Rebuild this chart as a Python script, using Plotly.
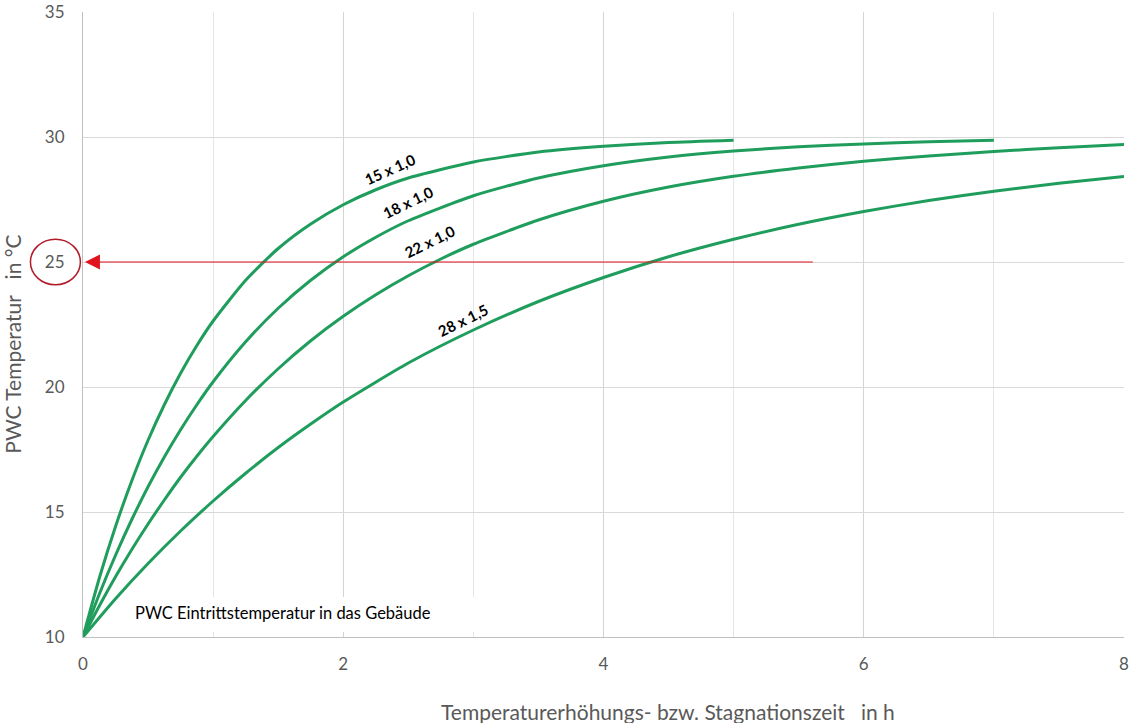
import plotly.graph_objects as go

# stagnation time in h / PWC temperature in degC
t_15 = [0, 0.125, 0.25, 0.375, 0.5, 0.625, 0.75, 0.875, 1, 1.25, 1.5, 1.75, 2, 2.25, 2.5,
        3, 3.5, 4, 4.5, 5]
temp_15 = [10, 12.35, 14.42, 16.25, 17.87, 19.29, 20.55, 21.66, 22.64, 24.27, 25.54, 26.52,
           27.29, 27.89, 28.36, 29.0, 29.4, 29.63, 29.78, 29.87]

t_18 = [0, 0.125, 0.25, 0.375, 0.5, 0.625, 0.75, 0.875, 1, 1.25, 1.5, 1.75, 2, 2.25, 2.5,
        3, 3.5, 4, 4.5, 5, 5.5, 6, 6.5, 7]
temp_18 = [10, 11.71, 13.27, 14.7, 16.01, 17.2, 18.29, 19.29, 20.21, 21.81, 23.15, 24.27,
           25.21, 25.99, 26.65, 27.65, 28.36, 28.85, 29.2, 29.44, 29.61, 29.72, 29.81, 29.87]

t_22 = [0, 0.125, 0.25, 0.375, 0.5, 0.625, 0.75, 0.875, 1, 1.25, 1.5, 1.75, 2, 2.25, 2.5,
        2.75, 3, 3.5, 4, 4.5, 5, 5.5, 6, 6.5, 7, 7.5, 8]
temp_22 = [10, 11.24, 12.41, 13.5, 14.52, 15.48, 16.39, 17.23, 18.02, 19.46, 20.73, 21.85,
           22.83, 23.69, 24.45, 25.12, 25.71, 26.68, 27.43, 28.0, 28.43, 28.76, 29.03, 29.24,
           29.42, 29.57, 29.7]

t_28 = [0, 0.25, 0.5, 0.75, 1, 1.25, 1.5, 1.75, 2, 2.5, 3, 3.5, 4, 4.5, 5, 5.5, 6, 6.5,
        7, 7.5, 8]
temp_28 = [10, 11.53, 12.94, 14.24, 15.44, 16.55, 17.58, 18.52, 19.4, 20.96, 22.28, 23.42,
           24.38, 25.21, 25.91, 26.51, 27.02, 27.46, 27.83, 28.15, 28.42]

series = [
    ("15 x 1,0", t_15, temp_15),
    ("18 x 1,0", t_18, temp_18),
    ("22 x 1,0", t_22, temp_22),
    ("28 x 1,5", t_28, temp_28),
]

# label positions / angles for the pipe sizes
label_x = [2.36, 2.5, 2.67, 2.92]
label_y = [28.73, 27.42, 25.83, 22.7]
label_angle = [-24, -26, -26, -26]

target_temp = 25
arrow_start = 5.62

GREEN = "#1f9d5c"
GREY = "#595959"
FONT = "Lato"

fig = go.Figure()
for name, t, temp in series:
    fig.add_trace(go.Scatter(
        x=t, y=temp, mode="lines", name=name,
        line=dict(color=GREEN, width=3, shape="spline", smoothing=0.6),
        hoverinfo="skip",
    ))

for (name, _, _), lx, ly, ang in zip(series, label_x, label_y, label_angle):
    fig.add_annotation(x=lx, y=ly, text=f"<b>{name}</b>", showarrow=False,
                       textangle=ang, font=dict(family=FONT, size=15, color="black"))

# red arrow pointing to 25 degC
fig.add_annotation(x=0.015, y=target_temp, ax=arrow_start, ay=target_temp,
                   xref="x", yref="y", axref="x", ayref="y", text="",
                   showarrow=True, arrowhead=2, arrowsize=3, arrowwidth=1,
                   arrowcolor="#e0141e")

# red circle around tick label 25
fig.add_shape(type="circle", xref="paper", yref="y",
              x0=-0.0505, x1=-0.0025, y0=target_temp - 0.91, y1=target_temp + 0.91,
              line=dict(color="#b31b2b", width=1.5))

# white box behind the inlet temperature text
fig.add_shape(type="rect", xref="x", yref="y", x0=0.13, x1=3.1, y0=10.2, y1=11.6,
              fillcolor="white", line_width=0, layer="between")
fig.add_annotation(x=0.385, y=10.95, xanchor="left", text="PWC Eintrittstemperatur in das Gebäude",
                   showarrow=False, font=dict(family=FONT, size=16.5, color="black"))

# axis titles as annotations (both sit off-centre in the original)
fig.add_annotation(xref="paper", yref="paper", x=-0.068, y=0.468, xanchor="center",
                   yanchor="middle", text="PWC Temperatur   in °C", textangle=-90,
                   showarrow=False, font=dict(family=FONT, size=21, color=GREY))
fig.add_annotation(xref="paper", yref="paper", x=0.562, y=-0.119, xanchor="center",
                   yanchor="middle", text="Temperaturerhöhungs- bzw. Stagnationszeit   in h",
                   showarrow=False, font=dict(family=FONT, size=21, color=GREY))

fig.update_layout(
    width=1129, height=723,
    margin=dict(l=83, r=5, t=12, b=86),
    paper_bgcolor="white", plot_bgcolor="white",
    showlegend=False,
    font=dict(family=FONT, color=GREY),
)
fig.update_xaxes(
    range=[0, 8], dtick=2, showgrid=True, gridcolor="#d4d4d4", gridwidth=1,
    tickfont=dict(size=17, color=GREY), ticklabeloverflow="allow", automargin=False,
    showline=True, linecolor="#bfbfbf", zeroline=False, ticks="", ticklabelstandoff=12,
    minor=dict(dtick=1, showgrid=True, gridcolor="#e6e6e6"),
)
fig.update_yaxes(
    range=[10, 35], dtick=5, showgrid=True, gridcolor="#d9d9d9",
    tickfont=dict(size=17, color=GREY), ticklabelstandoff=14, ticklabeloverflow="allow",
    automargin=False, showline=True, linecolor="#bfbfbf", zeroline=False, ticks="",
)

# page body has a default margin; remove it so the chart sits at the window origin
fig.write_html("out.html", config={"displayModeBar": False},
               post_script="document.body.style.margin = '0px';")
